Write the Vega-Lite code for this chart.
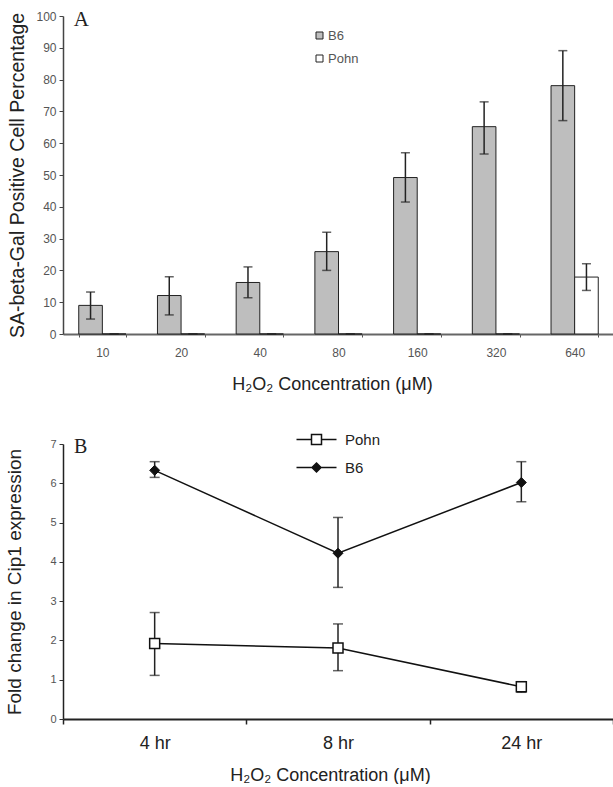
{
  "$schema": "https://vega.github.io/schema/vega-lite/v6.json",
  "padding": {"left": 5, "top": 9, "right": 0, "bottom": 0},
  "background": "white",
  "spacing": 39,
  "resolve": {"scale": {"fill": "independent", "shape": "independent"}, "legend": {"fill": "independent", "shape": "independent"}},
  "config": {"view": {"stroke": null}, "font": "Liberation Sans", "axis": {"grid": false}},
  "datasets": {
    "a": [
      {"conc": "10", "series": "B6", "value": 9.0, "lo": 4.7, "hi": 13.2},
      {"conc": "10", "series": "Pohn", "value": 0, "lo": 0, "hi": 0},
      {"conc": "20", "series": "B6", "value": 12.1, "lo": 6.0, "hi": 18.0},
      {"conc": "20", "series": "Pohn", "value": 0, "lo": 0, "hi": 0},
      {"conc": "40", "series": "B6", "value": 16.2, "lo": 11.4, "hi": 21.1},
      {"conc": "40", "series": "Pohn", "value": 0, "lo": 0, "hi": 0},
      {"conc": "80", "series": "B6", "value": 25.9, "lo": 20.0, "hi": 32.0},
      {"conc": "80", "series": "Pohn", "value": 0, "lo": 0, "hi": 0},
      {"conc": "160", "series": "B6", "value": 49.2, "lo": 41.5, "hi": 57.0},
      {"conc": "160", "series": "Pohn", "value": 0, "lo": 0, "hi": 0},
      {"conc": "320", "series": "B6", "value": 65.2, "lo": 56.6, "hi": 73.0},
      {"conc": "320", "series": "Pohn", "value": 0, "lo": 0, "hi": 0},
      {"conc": "640", "series": "B6", "value": 78.1, "lo": 67.1, "hi": 89.1},
      {"conc": "640", "series": "Pohn", "value": 17.9, "lo": 13.7, "hi": 22.1}
    ],
    "b": [
      {"time": "4 hr", "series": "B6", "value": 6.33, "lo": 6.15, "hi": 6.55},
      {"time": "8 hr", "series": "B6", "value": 4.22, "lo": 3.35, "hi": 5.13},
      {"time": "24 hr", "series": "B6", "value": 6.02, "lo": 5.53, "hi": 6.55},
      {"time": "4 hr", "series": "Pohn", "value": 1.92, "lo": 1.11, "hi": 2.71},
      {"time": "8 hr", "series": "Pohn", "value": 1.81, "lo": 1.23, "hi": 2.42},
      {"time": "24 hr", "series": "Pohn", "value": 0.82, "lo": 0.68, "hi": 0.95}
    ],
    "legB": [{"key": "Pohn"}, {"key": "B6"}]
  },
  "vconcat": [
    {
      "width": 551,
      "height": 318,
      "layer": [
        {
          "data": {"name": "a"},
          "mark": {"type": "bar", "stroke": "#222", "strokeWidth": 1},
          "encoding": {
            "x": {
              "field": "conc", "type": "nominal",
              "scale": {"type": "band", "domain": ["10", "20", "40", "80", "160", "320", "640"], "paddingInner": 0.4, "paddingOuter": 0.2},
              "axis": {"title": "H₂O₂ Concentration (μM)", "titleX": 269, "labelAngle": 0, "labelFontSize": 12, "labelColor": "#555", "labelPadding": 10, "tickBand": "extent", "tickSize": 3, "tickColor": "#555", "domainColor": "#666", "domainWidth": 2, "titleFontSize": 18, "titleFontWeight": "normal", "titleColor": "#222", "titlePadding": 17}
            },
            "xOffset": {"field": "series", "type": "nominal", "scale": {"domain": ["B6", "Pohn"]}},
            "y": {
              "field": "value", "type": "quantitative", "title": "SA-beta-Gal Positive Cell Percentage",
              "scale": {"domain": [0, 100]},
              "axis": {"values": [0, 10, 20, 30, 40, 50, 60, 70, 80, 90, 100], "labelOverlap": false, "labelFontSize": 12, "labelColor": "#555", "tickSize": 4, "labelPadding": 3, "tickColor": "#444", "domainColor": "#444", "domainWidth": 1.5, "titleFontSize": 19.5, "titleFontWeight": "normal", "titleColor": "#222", "titlePadding": 8}
            },
            "fill": {
              "field": "series", "type": "nominal",
              "scale": {"domain": ["B6", "Pohn"], "range": ["#bebebe", "#ffffff"]},
              "legend": {"title": null, "orient": "none", "legendX": 250, "legendY": 13, "symbolType": "square", "symbolSize": 49, "symbolStrokeColor": "#222", "symbolStrokeWidth": 1, "labelFontSize": 13, "labelColor": "#555", "labelOffset": 2, "rowPadding": 9, "padding": 0}
            }
          }
        },
        {
          "data": {"name": "a"},
          "mark": {"type": "rule", "color": "#222", "strokeWidth": 1.5},
          "encoding": {
            "x": {"field": "conc", "type": "nominal"},
            "xOffset": {"field": "series", "type": "nominal"},
            "y": {"field": "lo", "type": "quantitative", "title": "SA-beta-Gal Positive Cell Percentage",
              "axis": {"values": [0, 10, 20, 30, 40, 50, 60, 70, 80, 90, 100], "labelOverlap": false, "labelFontSize": 12, "labelColor": "#555", "tickSize": 4, "labelPadding": 3, "tickColor": "#444", "domainColor": "#444", "domainWidth": 1.5, "titleFontSize": 19.5, "titleFontWeight": "normal", "titleColor": "#222", "titlePadding": 8}},
            "y2": {"field": "hi"}
          }
        },
        {
          "data": {"name": "a"},
          "mark": {"type": "tick", "color": "#222", "thickness": 1.5, "size": 9},
          "encoding": {
            "x": {"field": "conc", "type": "nominal"},
            "xOffset": {"field": "series", "type": "nominal"},
            "y": {"field": "hi", "type": "quantitative", "title": "SA-beta-Gal Positive Cell Percentage",
              "axis": {"values": [0, 10, 20, 30, 40, 50, 60, 70, 80, 90, 100], "labelOverlap": false, "labelFontSize": 12, "labelColor": "#555", "tickSize": 4, "labelPadding": 3, "tickColor": "#444", "domainColor": "#444", "domainWidth": 1.5, "titleFontSize": 19.5, "titleFontWeight": "normal", "titleColor": "#222", "titlePadding": 8}}
          }
        },
        {
          "data": {"name": "a"},
          "mark": {"type": "tick", "color": "#222", "thickness": 1.5, "size": 9},
          "encoding": {
            "x": {"field": "conc", "type": "nominal"},
            "xOffset": {"field": "series", "type": "nominal"},
            "y": {"field": "lo", "type": "quantitative", "title": "SA-beta-Gal Positive Cell Percentage",
              "axis": {"values": [0, 10, 20, 30, 40, 50, 60, 70, 80, 90, 100], "labelOverlap": false, "labelFontSize": 12, "labelColor": "#555", "tickSize": 4, "labelPadding": 3, "tickColor": "#444", "domainColor": "#444", "domainWidth": 1.5, "titleFontSize": 19.5, "titleFontWeight": "normal", "titleColor": "#222", "titlePadding": 8}}
          }
        },
        {
          "data": {"values": [{"label": "A"}]},
          "mark": {"type": "text", "font": "Liberation Serif", "fontSize": 21, "align": "center", "baseline": "middle", "dx": -21, "dy": 4, "color": "#222"},
          "encoding": {
            "x": {"datum": "10", "type": "nominal"},
            "y": {"datum": 100, "type": "quantitative", "title": "SA-beta-Gal Positive Cell Percentage",
              "axis": {"values": [0, 10, 20, 30, 40, 50, 60, 70, 80, 90, 100], "labelOverlap": false, "labelFontSize": 12, "labelColor": "#555", "tickSize": 4, "labelPadding": 3, "tickColor": "#444", "domainColor": "#444", "domainWidth": 1.5, "titleFontSize": 19.5, "titleFontWeight": "normal", "titleColor": "#222", "titlePadding": 8}},
            "text": {"field": "label"}
          }
        }
      ]
    },
    {
      "width": 550,
      "height": 275,
      "layer": [
        {
          "data": {"name": "b"},
          "mark": {"type": "rule", "color": "#222", "strokeWidth": 1.5},
          "encoding": {
            "x": {
              "field": "time", "type": "nominal",
              "scale": {"type": "band", "domain": ["4 hr", "8 hr", "24 hr"], "paddingInner": 0, "paddingOuter": 0},
              "axis": {"title": "H₂O₂ Concentration (μM)", "titleX": 267, "labelAngle": 0, "labelFontSize": 18, "labelColor": "#222", "labelPadding": 10, "tickBand": "extent", "tickSize": 5, "tickWidth": 1.5, "tickColor": "#222", "domainColor": "#222", "domainWidth": 2, "titleFontSize": 18, "titleFontWeight": "normal", "titleColor": "#222", "titlePadding": 14}
            },
            "y": {
              "field": "lo", "type": "quantitative", "title": "Fold change in Cip1 expression",
              "scale": {"domain": [0, 7]},
              "axis": {"values": [0, 1, 2, 3, 4, 5, 6, 7], "labelOverlap": false, "labelFontSize": 11, "labelColor": "#555", "tickSize": 4, "labelPadding": 3, "tickColor": "#333", "domainColor": "#222", "domainWidth": 1.5, "titleFontSize": 19, "titleFontWeight": "normal", "titleColor": "#222", "titlePadding": 25}
            },
            "y2": {"field": "hi"}
          }
        },
        {
          "data": {"name": "b"},
          "mark": {"type": "tick", "color": "#222", "thickness": 1.5, "size": 10},
          "encoding": {
            "x": {"field": "time", "type": "nominal"},
            "y": {"field": "hi", "type": "quantitative", "title": "Fold change in Cip1 expression",
              "axis": {"values": [0, 1, 2, 3, 4, 5, 6, 7], "labelOverlap": false, "labelFontSize": 11, "labelColor": "#555", "tickSize": 4, "labelPadding": 3, "tickColor": "#333", "domainColor": "#222", "domainWidth": 1.5, "titleFontSize": 19, "titleFontWeight": "normal", "titleColor": "#222", "titlePadding": 25}}
          }
        },
        {
          "data": {"name": "b"},
          "mark": {"type": "tick", "color": "#222", "thickness": 1.5, "size": 10},
          "encoding": {
            "x": {"field": "time", "type": "nominal"},
            "y": {"field": "lo", "type": "quantitative", "title": "Fold change in Cip1 expression",
              "axis": {"values": [0, 1, 2, 3, 4, 5, 6, 7], "labelOverlap": false, "labelFontSize": 11, "labelColor": "#555", "tickSize": 4, "labelPadding": 3, "tickColor": "#333", "domainColor": "#222", "domainWidth": 1.5, "titleFontSize": 19, "titleFontWeight": "normal", "titleColor": "#222", "titlePadding": 25}}
          }
        },
        {
          "data": {"name": "b"},
          "mark": {"type": "line", "color": "#111", "strokeWidth": 1.5},
          "encoding": {
            "x": {"field": "time", "type": "nominal"},
            "y": {"field": "value", "type": "quantitative", "title": "Fold change in Cip1 expression",
              "axis": {"values": [0, 1, 2, 3, 4, 5, 6, 7], "labelOverlap": false, "labelFontSize": 11, "labelColor": "#555", "tickSize": 4, "labelPadding": 3, "tickColor": "#333", "domainColor": "#222", "domainWidth": 1.5, "titleFontSize": 19, "titleFontWeight": "normal", "titleColor": "#222", "titlePadding": 25}},
            "detail": {"field": "series"}
          }
        },
        {
          "data": {"name": "b"},
          "transform": [{"filter": "datum.series == 'Pohn'"}],
          "mark": {"type": "point", "shape": "square", "size": 100, "filled": true, "fill": "white", "stroke": "#111", "strokeWidth": 1.5, "opacity": 1},
          "encoding": {
            "x": {"field": "time", "type": "nominal"},
            "y": {"field": "value", "type": "quantitative", "title": "Fold change in Cip1 expression",
              "axis": {"values": [0, 1, 2, 3, 4, 5, 6, 7], "labelOverlap": false, "labelFontSize": 11, "labelColor": "#555", "tickSize": 4, "labelPadding": 3, "tickColor": "#333", "domainColor": "#222", "domainWidth": 1.5, "titleFontSize": 19, "titleFontWeight": "normal", "titleColor": "#222", "titlePadding": 25}}
          }
        },
        {
          "data": {"name": "b"},
          "transform": [{"filter": "datum.series == 'B6'"}],
          "mark": {"type": "point", "shape": "diamond", "size": 100, "filled": true, "fill": "#111", "stroke": "#111", "strokeWidth": 1, "opacity": 1},
          "encoding": {
            "x": {"field": "time", "type": "nominal"},
            "y": {"field": "value", "type": "quantitative", "title": "Fold change in Cip1 expression",
              "axis": {"values": [0, 1, 2, 3, 4, 5, 6, 7], "labelOverlap": false, "labelFontSize": 11, "labelColor": "#555", "tickSize": 4, "labelPadding": 3, "tickColor": "#333", "domainColor": "#222", "domainWidth": 1.5, "titleFontSize": 19, "titleFontWeight": "normal", "titleColor": "#222", "titlePadding": 25}}
          }
        },
        {
          "data": {"name": "legB"},
          "mark": {"type": "point", "filled": true, "stroke": "#111", "strokeWidth": 1.5, "opacity": 0, "size": 100},
          "encoding": {
            "shape": {
              "field": "key", "type": "nominal",
              "scale": {"domain": ["Pohn", "B6"], "range": ["M-4,0H-1M1,0H4M-1,-1H1V1H-1Z", "M-4,0H4M0,-0.9L0.9,0L0,0.9L-0.9,0Z"]},
              "legend": {"title": null, "orient": "none", "legendX": 246, "legendY": -12, "symbolSize": 100, "symbolStrokeColor": "#111", "symbolStrokeWidth": 1.5, "symbolOpacity": 1, "labelFontSize": 15, "labelColor": "#222", "labelOffset": 21, "rowPadding": 12, "padding": 0, "encode": {"symbols": {"update": {"opacity": {"value": 1}}}}}
            },
            "fill": {
              "field": "key", "type": "nominal",
              "scale": {"domain": ["Pohn", "B6"], "range": ["#ffffff", "#111111"]},
              "legend": {"title": null, "orient": "none", "legendX": 246, "legendY": -12, "symbolSize": 100, "symbolStrokeColor": "#111", "symbolStrokeWidth": 1.5, "symbolOpacity": 1, "labelFontSize": 15, "labelColor": "#222", "labelOffset": 21, "rowPadding": 12, "padding": 0, "encode": {"symbols": {"update": {"opacity": {"value": 1}}}}}
            }
          }
        },
        {
          "data": {"values": [{"label": "B"}]},
          "mark": {"type": "text", "font": "Liberation Serif", "fontSize": 20, "align": "center", "baseline": "middle", "dx": -74, "dy": 3, "color": "#222"},
          "encoding": {
            "x": {"datum": "4 hr", "type": "nominal"},
            "y": {"datum": 7, "type": "quantitative", "title": "Fold change in Cip1 expression",
              "axis": {"values": [0, 1, 2, 3, 4, 5, 6, 7], "labelOverlap": false, "labelFontSize": 11, "labelColor": "#555", "tickSize": 4, "labelPadding": 3, "tickColor": "#333", "domainColor": "#222", "domainWidth": 1.5, "titleFontSize": 19, "titleFontWeight": "normal", "titleColor": "#222", "titlePadding": 25}},
            "text": {"field": "label"}
          }
        }
      ]
    }
  ]
}
